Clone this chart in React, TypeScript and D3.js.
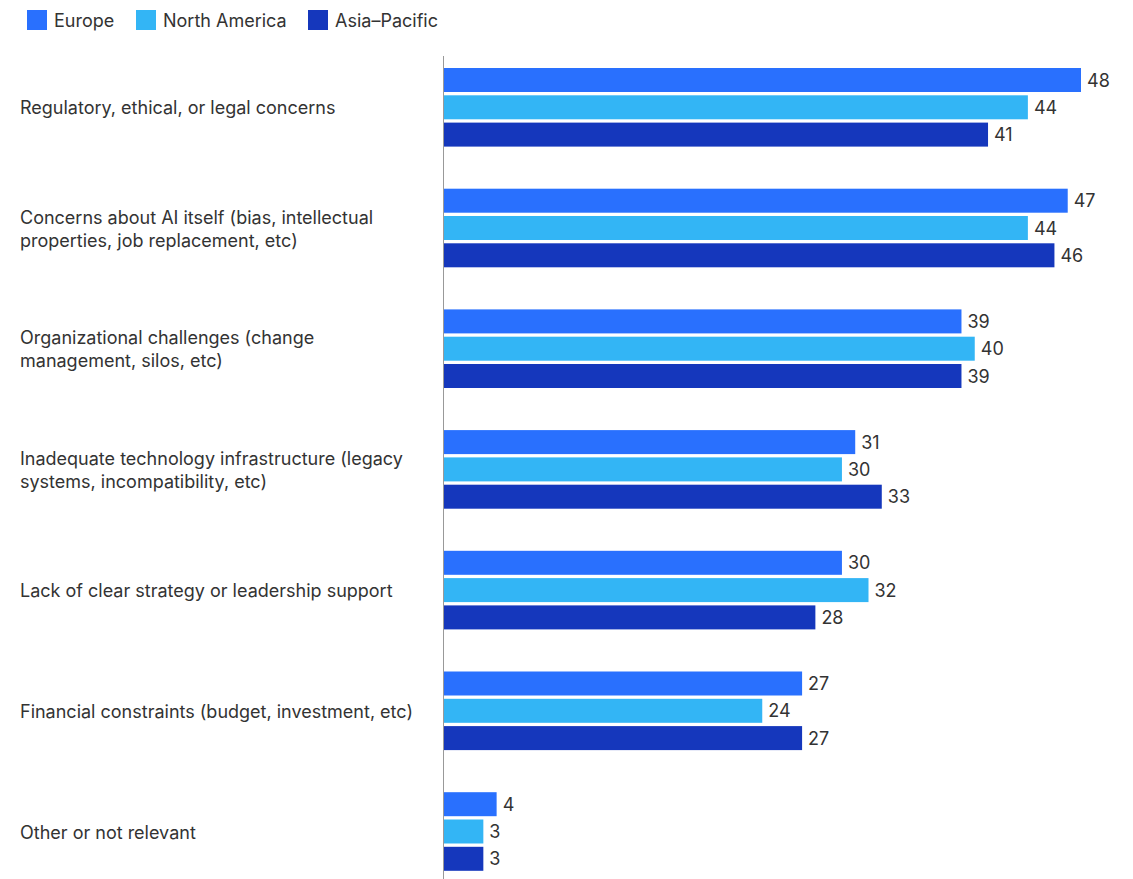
import React from "react";
import * as d3 from "d3";

const categories: string[][] = [
  ["Regulatory, ethical, or legal concerns"],
  ["Concerns about AI itself (bias, intellectual", "properties, job replacement, etc)"],
  ["Organizational challenges (change", "management, silos, etc)"],
  ["Inadequate technology infrastructure (legacy", "systems, incompatibility, etc)"],
  ["Lack of clear strategy or leadership support"],
  ["Financial constraints (budget, investment, etc)"],
  ["Other or not relevant"],
];
const seriesNames = ["Europe", "North America", "Asia\u2013Pacific"];
const europe = [48, 47, 39, 31, 30, 27, 4];
const northAmerica = [44, 44, 40, 30, 32, 24, 3];
const asiaPacific = [41, 46, 39, 33, 28, 27, 3];
const seriesValues = [europe, northAmerica, asiaPacific];
const colors = ["#2970FE", "#33B5F5", "#1537BC"];

const W = 1133;
const H = 879;
const FONT = "Inter, 'Liberation Sans', Arial, sans-serif";

export default function App() {
  const x = d3.scaleLinear().domain([0, 48]).range([443.5, 1081]);
  const y0 = d3
    .scaleBand<number>()
    .domain(d3.range(categories.length))
    .range([56, 56 + 120.7 * categories.length])
    .paddingInner(0)
    .paddingOuter(0);
  const bh = 24;

  return (
    <svg width={W} height={H} style={{ position: "absolute", left: 0, top: 0 }} fontFamily={FONT}>
      <rect width={W} height={H} fill="#fff" />
      {seriesNames.map((s, i) => {
        const lx = [27, 136, 308][i];
        return (
          <g key={s}>
            <rect x={lx} y={10} width={20} height={20} fill={colors[i]} />
            <text x={lx + 27} y={26.5} fontSize={18} fill="#333">
              {s}
            </text>
          </g>
        );
      })}
      {categories.map((lines, gi) => {
        const gy = y0(gi)!;
        const mid = gy + 12 + 27.3 + bh / 2;
        return (
          <g key={gi}>
            {lines.map((ln, li) => (
              <text
                key={li}
                x={20}
                y={mid + 7 + (li - (lines.length - 1) / 2) * 23}
                fontSize={18}
                fill="#333"
              >
                {ln}
              </text>
            ))}
            {seriesValues.map((vals, si) => {
              const by = gy + 27.3 * si + 12;
              return (
                <g key={si}>
                  <rect x={x(0)} y={by} width={x(vals[gi]) - x(0)} height={bh} fill={colors[si]} />
                  <text x={x(vals[gi]) + 6} y={by + bh / 2 + 6.5} fontSize={18} fill="#333">
                    {vals[gi]}
                  </text>
                </g>
              );
            })}
          </g>
        );
      })}
      <line x1={443.5} x2={443.5} y1={56} y2={H} stroke="#999" strokeWidth={1} />
    </svg>
  );
}
